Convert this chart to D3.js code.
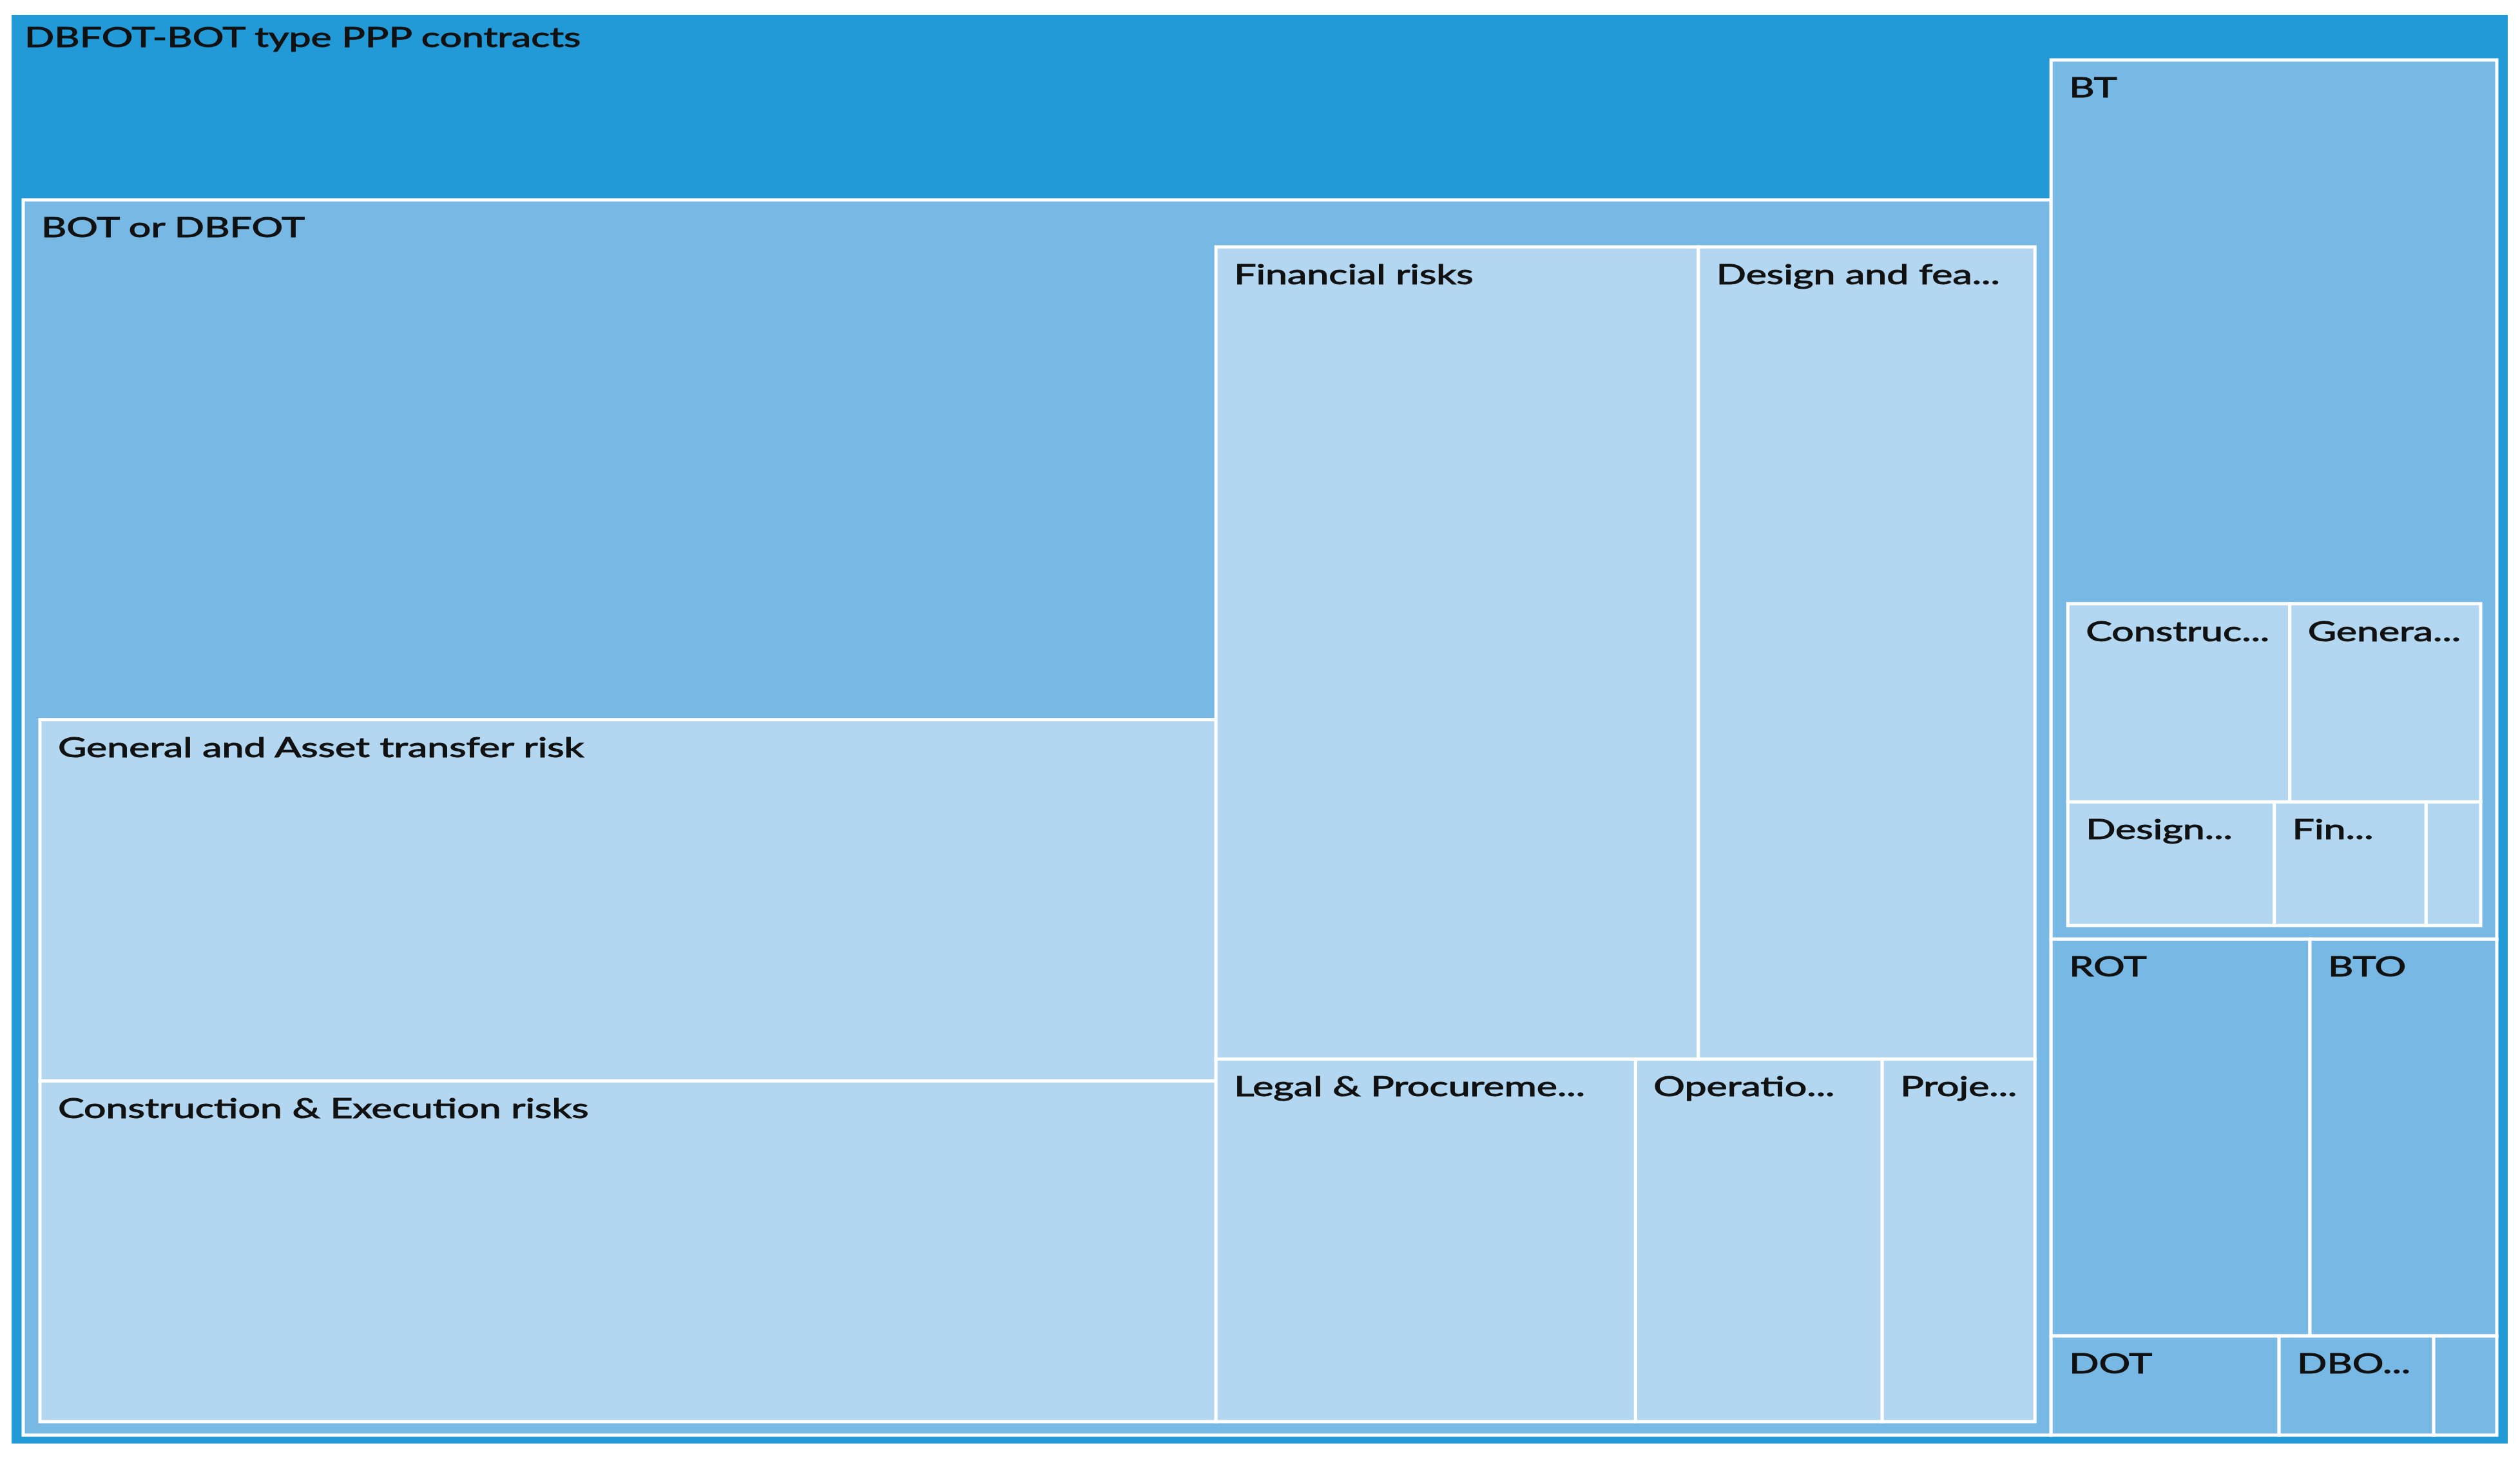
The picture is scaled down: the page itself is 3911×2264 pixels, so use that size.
<!DOCTYPE html>
<html>
<head>
<meta charset="utf-8">
<script src="https://cdn.jsdelivr.net/npm/d3@7"></script>
<style>
  body { margin: 0; background: #fff; }
  text { font-family: Lato, "Open Sans", sans-serif; }
</style>
</head>
<body>
<script>
const w = 3911
const h = 2264
const margin = {top: 23, left: 18, right: 19, bottom: 24}

// values (arbitrary units, whole chart = 1000)
const rootName = "DBFOT-BOT type PPP contracts"
const rootOwn = 83.4

const contractTypes = ["BOT or DBFOT", "BT", "ROT", "BTO", "DOT", "DBO...", ""]
const contractOwn = [174.7, 69.9, 30.2, 21.8, 6.65, 4.51, 1.84]

const botRisks = ["General and Asset transfer risk", "Construction & Execution risks", "Financial risks",
  "Design and fea...", "Legal & Procureme...", "Operatio...", "Proje..."]
const botValues = [133.5, 125.9, 123.1, 85.9, 47.8, 28.1, 17.4]

const btRisks = ["Construc...", "Genera...", "Design...", "Fin...", ""]
const btValues = [15.0, 12.9, 8.7, 6.4, 2.3]

const levelColors = ["#229ad8", "#78b8e4", "#b3d7f0"]

// build the hierarchy, the "own" part of a parent is an undrawn child
const subRisks = {"BOT or DBFOT": [botRisks, botValues], "BT": [btRisks, btValues]}
const tree = {name: rootName, children: [{name: "", own: true, value: rootOwn}]}
contractTypes.forEach((c, i) => {
  const sub = subRisks[c]
  if (sub) {
    tree.children.push({
      name: c,
      children: [{name: "", own: true, value: contractOwn[i]}]
        .concat(sub[0].map((r, j) => ({name: r, value: sub[1][j]})))
    })
  } else {
    tree.children.push({name: c, value: contractOwn[i]})
  }
})

// how children are grouped: a column on the left or a row on top
const bands = new Map([
  [rootName, [["col", 2], ["row", 1], ["row", 2], ["row", 3]]],
  ["BOT or DBFOT", [["col", 3], ["row", 2], ["row", 3]]],
  ["BT", [["row", 1], ["row", 2], ["row", 3]]]
])

function tile(parent, x0, y0, x1, y1) {
  const plan = bands.get(parent.data.name) || [["row", parent.children.length]]
  let rest = parent.value, i = 0
  for (const [dir, n] of plan) {
    const group = {children: parent.children.slice(i, i + n)}
    group.value = d3.sum(group.children, d => d.value)
    if (dir === "col") {
      const xm = x0 + (x1 - x0) * group.value / rest
      d3.treemapSlice(group, x0, y0, xm, y1)
      x0 = xm
    } else {
      const ym = y0 + (y1 - y0) * group.value / rest
      d3.treemapDice(group, x0, y0, x1, ym)
      y0 = ym
    }
    rest -= group.value
    i += n
  }
}

const root = d3.hierarchy(tree).sum(d => d.children ? 0 : d.value)

d3.treemap()
  .tile(tile)
  .size([w - margin.left - margin.right, h - margin.top - margin.bottom])
  .paddingTop(d => d.depth ? 73 : 70)
  .paddingLeft(d => d.depth ? 26 : 18)
  .paddingRight(d => d.depth ? 25 : 17)
  .paddingBottom(d => d.depth ? 21 : 13)
  (root)

const svg = d3.create("svg")
  .attr("width", w)
  .attr("height", h)

svg.append("rect")
  .attr("width", w)
  .attr("height", h)
  .attr("fill", "#fff")

const g = svg.append("g")
  .attr("transform", `translate(${margin.left},${margin.top})`)

const nodes = root.descendants().filter(d => !d.data.own)

const cell = g.selectAll("g.cell")
  .data(nodes)
  .join("g")
  .attr("class", "cell")

cell.append("rect")
  .attr("x", d => d.x0)
  .attr("y", d => d.y0)
  .attr("width", d => d.x1 - d.x0)
  .attr("height", d => d.y1 - d.y0)
  .attr("fill", d => levelColors[d.depth])
  .attr("stroke", d => d.depth ? "#fff" : "none")
  .attr("stroke-width", 5)

cell.filter(d => d.data.name)
  .append("text")
  .attr("transform", d => d.depth
    ? `translate(${d.x0 + 28},${d.y0 + 58}) scale(1.45,1)`
    : `translate(${d.x0 + 20},${d.y0 + 50}) scale(1.45,1)`)
  .attr("font-size", 42)
  .attr("fill", "#111")
  .attr("stroke", "#111")
  .attr("stroke-width", 1)
  .text(d => d.data.name)

d3.select("body")
  .append(() => svg.node())
</script>
</body>
</html>
